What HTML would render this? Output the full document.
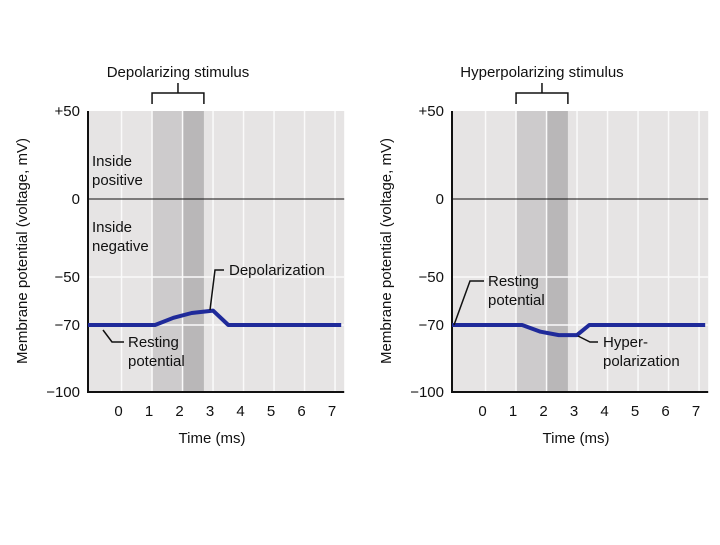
<!DOCTYPE html>
<html><head><meta charset="utf-8"><style>
body{margin:0;background:#fff;width:720px;height:540px;overflow:hidden}
svg text{font-family:"Liberation Sans",Arial,sans-serif;fill:#111}
</style></head><body>
<svg id="c" width="720" height="540"></svg>
<script>
const xTicks=[0,1,2,3,4,5,6,7];
const yTickVals=[50,0,-50,-70,-100];
const yTickLabels=["+50","0","\u221250","\u221270","\u2212100"];
const yTickPix=[111,199,277,325,392];
const depTime=[-1,1.2,1.8,2.4,3.1,3.6,7.3];
const depVolt=[-70,-70,-67,-65,-64,-70,-70];
const hypTime=[-1,1.3,1.9,2.5,3.1,3.5,7.3];
const hypVolt=[-70,-70,-73,-74.5,-74.5,-70,-70];
const ns="http://www.w3.org/2000/svg";
const svg=document.getElementById('c');
function mk(t,a,p){const e=document.createElementNS(ns,t);for(const k in a)e.setAttribute(k,a[k]);(p||svg).appendChild(e);return e;}
function yS(v){for(let i=0;i<yTickVals.length-1;i++){const a=yTickVals[i],b=yTickVals[i+1];if(v<=a&&v>=b)return yTickPix[i]+(a-v)/(a-b)*(yTickPix[i+1]-yTickPix[i]);}return v>50?111:392;}
function panel(x0,title,times,volts,name,stimStart,stimEnd){
  const g=mk('g',{});
  
  
  const xS=t=>x0+(t+1)*30.5;
  const right=xS(7.4);
  const bg=mk('rect',{x:x0,y:111,width:right-x0,height:281,fill:'#e6e4e4'},g);
  
  const s1=mk('rect',{x:xS(stimStart),y:111,width:xS(2.1)-xS(stimStart),height:281,fill:'#cdcbcc'},g);
  
  const s2=mk('rect',{x:xS(2.1),y:111,width:xS(stimEnd)-xS(2.1),height:281,fill:'#b9b7b8'},g);
  
  for(let t=0;t<=7;t++){const l=mk('line',{x1:xS(t+0.1),x2:xS(t+0.1),y1:111,y2:392,stroke:'#fafafa','stroke-width':1.5},g);
    }
  [-50,-70].forEach(v=>{const l=mk('line',{x1:x0,x2:right,y1:yS(v),y2:yS(v),stroke:'#fafafa','stroke-width':1.5},g);
    });
  const z=mk('line',{x1:x0,x2:right,y1:yS(0),y2:yS(0),stroke:'#111','stroke-width':1},g);
  
  const ax=mk('path',{d:`M${x0} 111V392H${right}`,fill:'none',stroke:'#111','stroke-width':2},g);
  
  yTickLabels.forEach((lab,i)=>{const t=mk('text',{x:x0-8,y:yS(yTickVals[i])+5,'text-anchor':'end','font-size':15},g);t.textContent=lab;
    });
  xTicks.forEach(v=>{const t=mk('text',{x:xS(v),y:416,'text-anchor':'middle','font-size':15},g);t.textContent=v;
    });
  const xt=mk('text',{x:x0+124,y:443,'text-anchor':'middle','font-size':15},g);xt.textContent='Time (ms)';
  
  const yt=mk('text',{x:0,y:0,'text-anchor':'middle','font-size':15,transform:`translate(${x0-61},251) rotate(-90)`},g);yt.textContent='Membrane potential (voltage, mV)';
  
  const br=mk('path',{d:`M${xS(stimStart)} 104V93H${xS(stimEnd)}V104M${(xS(stimStart)+xS(stimEnd))/2} 93V83`,fill:'none',stroke:'#111','stroke-width':1.5},g);
  
  const tt=mk('text',{x:(xS(stimStart)+xS(stimEnd))/2,y:77,'text-anchor':'middle','font-size':15},g);tt.textContent=title;
  
  const d=times.map((t,i)=>(i?'L':'M')+xS(t).toFixed(1)+' '+yS(volts[i]).toFixed(1)).join('');
  const ln=mk('path',{d:d,fill:'none',stroke:'#1f2a9a','stroke-width':4,'stroke-linejoin':'round'},g);
  
  return {g,xS};
}
const L=panel(88,'Depolarizing stimulus',depTime,depVolt,'depolarizing',1.1,2.8);
const R=panel(452,'Hyperpolarizing stimulus',hypTime,hypVolt,'hyperpolarizing',1.1,2.8);
function txt(g,x,y,lines,name){lines.forEach((s,i)=>{const t=mk('text',{x:x,y:y+i*19,'font-size':15},g);t.textContent=s;
  });}
function callout(g,d,name){const p=mk('path',{d:d,fill:'none',stroke:'#111','stroke-width':1.5},g);
  }
txt(L.g,92,166,['Inside','positive'],'inside-positive-label');
txt(L.g,92,232,['Inside','negative'],'inside-negative-label');
txt(L.g,229,275,['Depolarization'],'depolarization-label');
callout(L.g,'M210 310L215 270H224','depolarization-callout');
txt(L.g,128,347,['Resting','potential'],'resting-potential-label');
callout(L.g,'M103 330L112 342H124','resting-callout');
txt(R.g,488,286,['Resting','potential'],'resting-potential-label');
callout(R.g,'M454 325L470 281H484','resting-callout');
txt(R.g,603,347,['Hyper-','polarization'],'hyperpolarization-label');
callout(R.g,'M578 336L590 342H598','hyperpolarization-callout');
</script>
</body></html>
